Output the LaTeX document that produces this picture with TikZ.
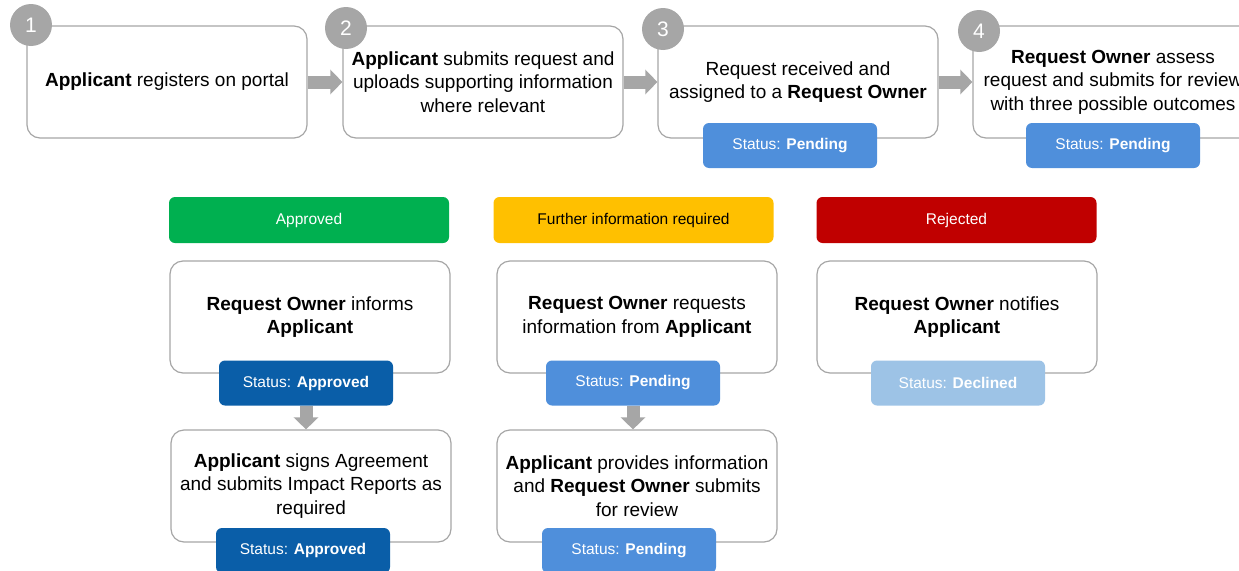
\documentclass[tikz,border=0pt]{standalone}
\usepackage{fontspec}
\setmainfont{Liberation Sans}
\usepackage{xcolor}
\usetikzlibrary{arrows.meta,positioning}
\definecolor{boxgrey}{HTML}{A6A6A6}
\definecolor{pendblue}{HTML}{4F8FDB}
\definecolor{apprblue}{HTML}{0A5EA8}
\definecolor{declblue}{HTML}{9DC3E6}
\definecolor{okgreen}{HTML}{00B050}
\definecolor{infoamber}{HTML}{FFC000}
\definecolor{rejred}{HTML}{C00000}

\begin{document}
\begin{tikzpicture}[x=1pt,y=-1pt,
  card/.style={draw=boxgrey,line width=1.2pt,rounded corners=13pt,fill=white,
    minimum width=280pt,minimum height=112pt,inner sep=0pt,align=center,
    font=\fontsize{19}{23.5}\selectfont},
  num/.style={circle,fill=boxgrey,minimum size=42pt,inner sep=0pt,text=white,
    font=\fontsize{21}{21}\selectfont},
  pill/.style={rounded corners=6pt,minimum width=174pt,minimum height=45pt,
    inner sep=0pt,text=white,font=\fontsize{15.5}{18}\selectfont},
  head/.style={rounded corners=6pt,minimum width=280pt,minimum height=46pt,
    inner sep=0pt,font=\fontsize{15.5}{18}\selectfont},
  flow/.style={draw=boxgrey,line width=13pt,-{Triangle[length=12pt,width=24pt]}}]
\useasboundingbox (0,0) rectangle (1239,570);
\clip (0,0) rectangle (1239,570);

\node[card] (S1) at (167,82) {\textbf{Applicant} registers on portal};
\node[card] (S2) at (483,82) {\textbf{Applicant} submits request and\\uploads supporting information\\where relevant};
\node[card] (S3) at (798,82) {Request received and\\assigned to a \textbf{Request Owner}};
\node[card] (S4) at (1113,82) {\textbf{Request Owner} assess\\request and submits for review\\with three possible outcomes};

\node[num] (N1) at (31,25) {1};
\node[num] (N2) at (346,28) {2};
\node[num] (N3) at (663,29) {3};
\node[num] (N4) at (979,31) {4};

\node[pill,fill=pendblue] (P3) at (790,145.5) {Status: \textbf{Pending}};
\node[pill,fill=pendblue] (P4) at (1113,145.5) {Status: \textbf{Pending}};

\draw[flow] (S1) -- (S2);
\draw[flow] (S2) -- (S3);
\draw[flow] (S3) -- (S4);

\node[head,fill=okgreen,text=white] (H1) at (309,220) {Approved};
\node[head,fill=infoamber] (H2) at (633.5,220) {Further information required};
\node[head,fill=rejred,text=white] (H3) at (956.5,220) {Rejected};

\node[card] (B5) at (310,317) {\textbf{Request Owner} informs\\\textbf{Applicant}};
\node[card] (B6) at (311,486) {\textbf{Applicant} signs Agreement\\and submits Impact Reports as\\required};
\node[card] (B7) at (637,317) {\textbf{Request Owner} requests\\information from \textbf{Applicant}};
\node[card] (B8) at (637,486) {\textbf{Applicant} provides information\\and \textbf{Request Owner} submits\\for review};
\node[card] (B9) at (957,317) {\textbf{Request Owner} notifies\\\textbf{Applicant}};

\node[pill,fill=apprblue] (P5) at (306,383) {Status: \textbf{Approved}};
\node[pill,fill=apprblue] (P6) at (303,550.5) {Status: \textbf{Approved}};
\node[pill,fill=pendblue] (P7) at (633,383) {Status: \textbf{Pending}};
\node[pill,fill=pendblue] (P8) at (629,550.5) {Status: \textbf{Pending}};
\node[pill,fill=declblue] (P9) at (958,383) {Status: \textbf{Declined}};

\draw[flow] (P5.south) -- (P5.south |- B6.north);
\draw[flow] (P7.south) -- (P7.south |- B8.north);
\end{tikzpicture}
\end{document}
